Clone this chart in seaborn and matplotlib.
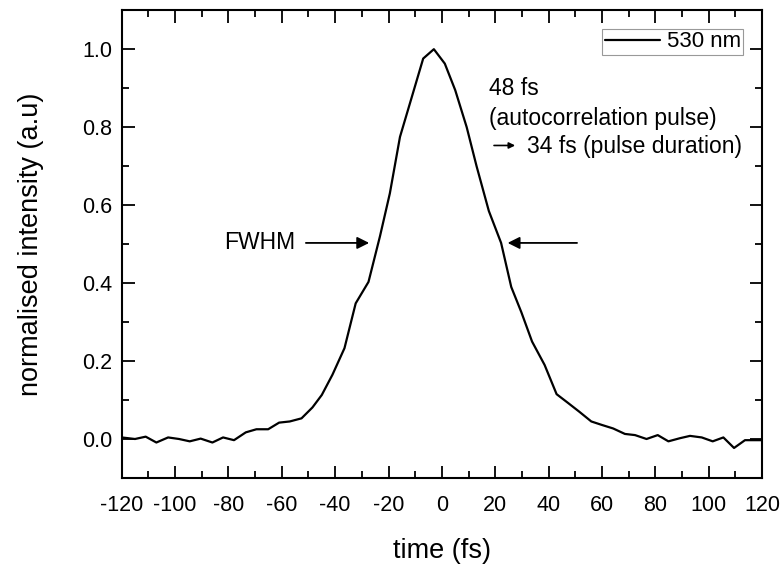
import numpy as np
import pandas as pd
import matplotlib
matplotlib.use('Agg')
import matplotlib.pyplot as plt
from matplotlib.ticker import MultipleLocator, FormatStrFormatter
import seaborn as sns

# autocorrelation trace
time_fs = [-120, -115, -111, -107, -102.6, -98.5, -94.5, -90.4, -86, -82,
           -77.9, -73.5, -69.5, -65.1, -61, -57, -52.6, -48.5, -45, -41,
           -36.5, -32.3, -27.5, -23.2, -19.5, -15.7, -11.8, -7, -3,
           1.1, 5, 9.3, 13, 17.6, 22.2, 26, 29.8, 33.8, 38.5, 43, 47,
           51.5, 56, 60, 64.2, 68.6, 72.4, 76.7, 80.9, 84.9, 89.2, 93,
           97.4, 101.5, 105.5, 109.5, 113.6, 118.6, 120]
intensity = [0.004, 0.0, 0.006, -0.009, 0.004, 0.0, -0.006, 0.001, -0.009, 0.004,
             -0.003, 0.017, 0.025, 0.025, 0.042, 0.045, 0.053, 0.081, 0.113, 0.165,
             0.233, 0.348, 0.403, 0.52, 0.63, 0.775, 0.865, 0.976, 1.0,
             0.963, 0.895, 0.80, 0.70, 0.585, 0.503, 0.39, 0.325, 0.25, 0.19, 0.115, 0.094,
             0.07, 0.045, 0.036, 0.027, 0.013, 0.010, 0.0, 0.010, -0.006, 0.002, 0.008,
             0.004, -0.006, 0.004, -0.023, -0.003, -0.003, -0.003]

df = pd.DataFrame({'time': time_fs, 'intensity': intensity})

sns.set_theme(style="ticks")
plt.rcParams['font.family'] = ['Liberation Sans', 'DejaVu Sans']
plt.rcParams['axes.unicode_minus'] = False
plt.rcParams['text.color'] = 'black'
plt.rcParams['axes.labelcolor'] = 'black'

fig = plt.figure(figsize=(7.8, 5.67), dpi=100)
ax = fig.add_axes([0.156, 0.157, 0.821, 0.825])

sns.lineplot(data=df, x='time', y='intensity', ax=ax, color='black',
             linewidth=1.6, label='530 nm')

ax.set_xlim(-120, 120)
ax.set_ylim(-0.1, 1.1)
ax.xaxis.set_major_locator(MultipleLocator(20))
ax.xaxis.set_minor_locator(MultipleLocator(10))
ax.yaxis.set_major_locator(MultipleLocator(0.2))
ax.yaxis.set_minor_locator(MultipleLocator(0.1))
ax.yaxis.set_major_formatter(FormatStrFormatter('%.1f'))
ax.tick_params(which='both', top=True, right=True, direction='in',
               labelsize=15.5, colors='black', width=1.3)
ax.tick_params(which='major', length=9)
ax.tick_params(which='minor', length=5)
ax.tick_params(axis='x', which='major', pad=12)
ax.tick_params(axis='y', which='major', pad=7)
for s in ax.spines.values():
    s.set_linewidth(1.5)
    s.set_color('black')

ax.set_xlabel('time (fs)', fontsize=19.5, labelpad=16)
ax.set_ylabel('normalised intensity (a.u)', fontsize=19.5, labelpad=27)

leg = ax.legend(loc='upper right', fontsize=16, frameon=True, fancybox=False,
                handlelength=2.5, borderpad=0.1, borderaxespad=0.85,
                handletextpad=0.3)
leg.get_frame().set_edgecolor('gray')
leg.get_frame().set_linewidth(0.8)

# FWHM arrows
ax.annotate('', xy=(-26.2, 0.503), xytext=(-52, 0.503),
            arrowprops=dict(arrowstyle='-|>', color='black', lw=1.3,
                            mutation_scale=18))
ax.annotate('', xy=(23.6, 0.503), xytext=(51.7, 0.503),
            arrowprops=dict(arrowstyle='-|>', color='black', lw=1.3,
                            mutation_scale=18))
ax.text(-55, 0.503, 'FWHM', fontsize=16.5, ha='right', va='center')

ax.text(17.5, 0.90, '48 fs', fontsize=16.5, ha='left', va='center')
ax.text(17.5, 0.823, '(autocorrelation pulse)', fontsize=16.5, ha='left', va='center')
ax.annotate('', xy=(28.5, 0.753), xytext=(18.5, 0.753),
            arrowprops=dict(arrowstyle='-|>', color='black', lw=1.2,
                            mutation_scale=9))
ax.text(32, 0.751, '34 fs (pulse duration)', fontsize=16.5, ha='left', va='center')

fig.savefig('out.png', dpi=100)
